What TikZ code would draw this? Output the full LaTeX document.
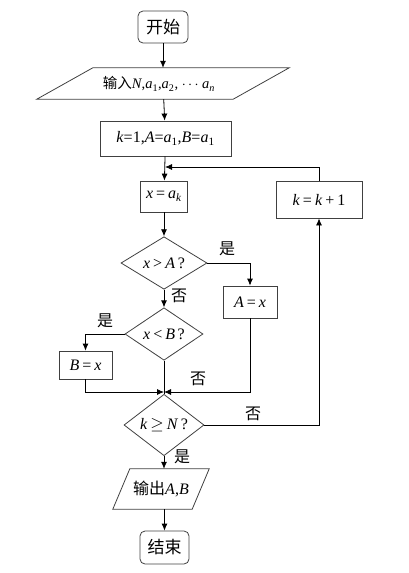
\documentclass[tikz,border=0pt]{standalone}
\usepackage{fontspec}
\setmainfont{Liberation Serif}
\newfontfamily\cjk{Noto Sans CJK SC}
\usetikzlibrary{arrows.meta,shapes.geometric}
\newcommand{\vv}[1]{\textit{#1}}
\newcommand{\sbs}[1]{\textsubscript{#1}}
\newcommand{\gp}{\hspace{3pt}}
\begin{document}
\begin{tikzpicture}[x=1pt,y=-1pt,
  every node/.style={font=\fontsize{16}{18}\selectfont, inner sep=0pt},
  shp/.style={draw=black!75, line width=0.8pt},
  procbox/.style={shp, rectangle},
  termbox/.style={shp, rectangle, rounded corners=5pt, font=\cjk\fontsize{17}{19}\selectfont},
  decbox/.style={shp, diamond},
  ghost/.style={rectangle},
  conn/.style={line width=0.8pt, -{Latex[length=7pt,width=6pt]}},
  plainconn/.style={line width=0.8pt},
  lbl/.style={font=\cjk\fontsize{16}{18}\selectfont}
]
\useasboundingbox (0,0) rectangle (409,573);

\node[termbox, minimum width=50, minimum height=32] (start) at (163,27) {开始};
\node[ghost, minimum width=196, minimum height=31] (in) at (163,83.5) {};
\draw[shp] ([xshift=28]in.north west) -- ([xshift=28]in.north east) -- ([xshift=-28]in.south east) -- ([xshift=-28]in.south west) -- cycle;
\node[font=\fontsize{14.5}{16}\selectfont] (intext) at (159,84) {\cjk 输入\normalfont\vv{N},\vv{a}\sbs{1},\vv{a}\sbs{2}, $\cdots$ \vv{a}\sbs{\vv{n}}};
\node[procbox, minimum width=131, minimum height=35] (init) at (165.5,138.5) {\vv{k}=1,\vv{A}=\vv{a}\sbs{1},\vv{B}=\vv{a}\sbs{1}};
\node[procbox, minimum width=47, minimum height=31] (xa) at (164,196.5) {\vv{x}\gp=\gp\vv{a}\sbs{\vv{k}}};
\node[procbox, minimum width=86, minimum height=37] (kk) at (319,199.5) {\vv{k}\gp=\gp\vv{k}\gp+\gp1};
\node[decbox, minimum width=86, minimum height=42] (d1) at (164,263) {\vv{x}\gp>\gp\vv{A}\,?};
\node[procbox, minimum width=54, minimum height=32] (ax) at (250,302) {\vv{A}\gp=\gp\vv{x}};
\node[decbox, minimum width=78, minimum height=44] (d2) at (164,334) {\vv{x}\gp<\gp\vv{B}\,?};
\node[procbox, minimum width=53, minimum height=28] (bx) at (85.5,365) {\vv{B}\gp=\gp\vv{x}};
\node[decbox, minimum width=80, minimum height=44] (d3) at (164,425) {\vv{k}\gp$\geq$\gp\vv{N}\,?};
\node[ghost, minimum width=79, minimum height=40] (out) at (161,489) {\cjk 输出\normalfont\vv{A},\vv{B}};
\draw[shp] ([xshift=8.5]out.north west) -- ([xshift=8.5]out.north east) -- ([xshift=-8.5]out.south east) -- ([xshift=-8.5]out.south west) -- cycle;
\node[termbox, minimum width=49, minimum height=33] (end) at (164.5,547.5) {结束};

\coordinate (loopin) at (165,167);
\coordinate (merge) at (164,392);

\draw[conn] (start) -- (in);
\draw[conn] (in) -- (init);
\draw[conn] (init) -- (xa);
\draw[conn] (xa) -- (d1);
\draw[conn] (d1) -- (d2);
\draw[conn] (d1.east) -| (ax.north);
\draw[conn] (d2.west) -| (bx.north);
\draw[conn] (ax.south) |- (merge);
\draw[conn] (bx.south) |- (merge);
\draw[plainconn] (d2.south) -- (d3.north);
\draw[conn] (d3.east) -| (kk.south);
\draw[conn] (kk.north) |- (loopin);
\draw[conn] (d3) -- (out.north -| d3.south);
\draw[conn] (out.south -| end.north) -- (end);

\node[lbl] (l1) at (227,249) {是};
\node[lbl] (l2) at (179,296) {否};
\node[lbl] (l3) at (105,321) {是};
\node[lbl] (l4) at (198,379) {否};
\node[lbl] (l5) at (253,414) {否};
\node[lbl] (l6) at (182,457) {是};
\end{tikzpicture}
\end{document}
